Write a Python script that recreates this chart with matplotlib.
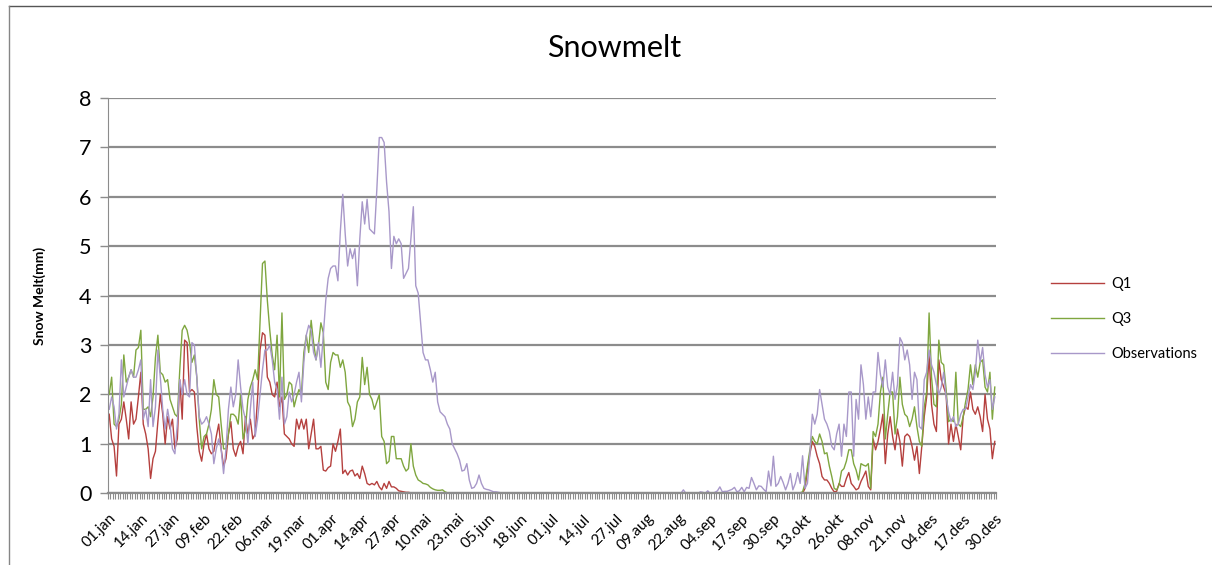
import matplotlib
matplotlib.use("Agg")
import matplotlib.pyplot as plt
from matplotlib.lines import Line2D
import numpy as np

# daily snow melt (mm), one row = 13 days
q1 = [
    1.6, 1.1, 0.95, 0.35, 1.4, 1.5, 1.85, 1.5, 1.1, 1.85, 1.4, 1.5, 1.95,
    2.45, 1.4, 1.2, 0.9, 0.3, 0.7, 0.85, 1.45, 2.0, 1.6, 1.0, 1.55, 1.3,
    1.5, 0.9, 1.1, 2.3, 1.5, 3.1, 3.05, 2.05, 2.1, 2.05, 1.35, 0.85, 0.65,
    1.0, 1.2, 0.9, 0.8, 0.85, 1.15, 1.4, 0.9, 0.55, 0.7, 1.2, 1.45, 0.9,
    0.75, 0.95, 1.05, 0.8, 1.55, 1.2, 1.5, 1.1, 1.2, 1.95, 2.9, 3.25, 3.2,
    2.35, 2.25, 2.0, 1.95, 2.25, 1.75, 1.95, 1.2, 1.15, 1.1, 1.0, 0.95, 1.5,
    1.3, 1.5, 1.3, 1.5, 0.9, 1.2, 1.5, 0.9, 0.9, 0.95, 0.47, 0.45, 0.52,
    0.55, 1.0, 0.85, 1.05, 1.3, 0.4, 0.47, 0.37, 0.45, 0.47, 0.35, 0.4, 0.3,
    0.55, 0.4, 0.2, 0.17, 0.2, 0.17, 0.24, 0.13, 0.07, 0.2, 0.1, 0.24, 0.13,
    0.13, 0.1, 0.05, 0.04, 0.03, 0.02, 0.02, 0.01, 0.01, 0.01, 0.01, 0, 0,
    0, 0, 0, 0, 0, 0, 0, 0, 0, 0, 0, 0, 0,
    0, 0, 0, 0, 0, 0, 0, 0, 0, 0, 0, 0, 0,
    0, 0, 0, 0, 0, 0, 0, 0, 0, 0, 0, 0, 0,
    0, 0, 0, 0, 0, 0, 0, 0, 0, 0, 0, 0, 0,
    0, 0, 0, 0, 0, 0, 0, 0, 0, 0, 0, 0, 0,
    0, 0, 0, 0, 0, 0, 0, 0, 0, 0, 0, 0, 0,
    0, 0, 0, 0, 0, 0, 0, 0, 0, 0, 0, 0, 0,
    0, 0, 0, 0, 0, 0, 0, 0, 0, 0, 0, 0, 0,
    0, 0, 0, 0, 0, 0, 0, 0, 0, 0, 0, 0, 0,
    0, 0, 0, 0, 0, 0, 0, 0, 0, 0, 0, 0, 0,
    0, 0, 0, 0, 0, 0, 0, 0, 0, 0, 0, 0, 0,
    0, 0, 0, 0, 0, 0, 0, 0, 0, 0, 0, 0, 0,
    0.1, 0.47, 0.8, 1.05, 0.95, 0.75, 0.6, 0.34, 0.27, 0.27, 0.2, 0.1, 0.03,
    0.04, 0.2, 0.14, 0.14, 0.3, 0.42, 0.2, 0.14, 0.07, 0.1, 0.24, 0.34, 0.45,
    0.14, 0.07, 1.1, 0.88, 1.05, 1.3, 1.6, 0.6, 1.2, 1.55, 1.15, 0.88, 1.3,
    1.05, 0.55, 1.15, 1.2, 1.15, 0.95, 0.67, 0.95, 0.4, 0.95, 1.55, 1.95, 2.8,
    1.8, 1.4, 1.25, 2.7, 2.3, 2.15, 2.0, 1.0, 1.4, 1.05, 1.4, 1.15, 0.88,
    1.55, 1.75, 1.7, 2.05, 1.7, 1.6, 1.75, 1.55, 1.25, 2.0, 1.5, 1.3, 0.7,
    1.05,
]

q3 = [
    2.0, 2.35, 1.4, 1.35, 1.5, 1.8, 2.8, 2.25, 2.35, 2.5, 2.35, 2.9, 2.95,
    3.3, 1.7, 1.7, 1.75, 1.55, 1.95, 2.75, 3.2, 2.45, 2.4, 2.25, 2.3, 1.9,
    1.75, 1.6, 1.55, 2.5, 3.3, 3.4, 3.3, 3.05, 2.65, 2.8, 2.35, 1.5, 0.9,
    1.15, 1.2, 1.4, 1.7, 2.3, 2.0, 1.95, 1.4, 0.9, 0.9, 1.2, 1.6, 1.6,
    1.55, 1.4, 2.0, 1.1, 1.3, 1.9, 2.15, 2.3, 2.5, 2.3, 3.5, 4.65, 4.7,
    3.9, 3.3, 2.8, 2.5, 3.2, 1.95, 3.65, 1.9, 2.0, 2.25, 2.2, 1.75, 1.95,
    2.1, 2.0, 2.85, 3.2, 2.85, 3.5, 3.05, 2.7, 3.0, 3.45, 3.25, 2.25, 2.1,
    2.65, 2.85, 2.8, 2.8, 2.55, 2.7, 2.45, 1.85, 1.75, 1.35, 1.5, 1.85, 1.95,
    2.75, 2.2, 2.55, 2.0, 1.9, 1.7, 1.85, 2.0, 1.15, 1.05, 0.6, 0.65, 1.15,
    1.15, 0.7, 0.7, 0.7, 0.55, 0.45, 0.5, 1.0, 0.55, 0.37, 0.27, 0.24, 0.2,
    0.19, 0.17, 0.12, 0.09, 0.07, 0.06, 0.06, 0.07, 0.03, 0.01, 0.01, 0.01, 0.01,
    0.01, 0.01, 0.01, 0, 0, 0, 0, 0, 0, 0, 0, 0, 0,
    0, 0, 0, 0, 0, 0, 0, 0, 0, 0, 0, 0, 0,
    0, 0, 0, 0, 0, 0, 0, 0, 0, 0, 0, 0, 0,
    0, 0, 0, 0, 0, 0, 0, 0, 0, 0, 0, 0, 0,
    0, 0, 0, 0, 0, 0, 0, 0, 0, 0, 0, 0, 0,
    0, 0, 0, 0, 0, 0, 0, 0, 0, 0, 0, 0, 0,
    0, 0, 0, 0, 0, 0, 0, 0, 0, 0, 0, 0, 0,
    0, 0, 0, 0, 0, 0, 0, 0, 0, 0, 0, 0, 0,
    0, 0, 0, 0, 0, 0, 0, 0, 0, 0, 0, 0, 0,
    0, 0, 0, 0, 0, 0, 0, 0, 0, 0, 0, 0, 0,
    0, 0, 0, 0, 0, 0, 0, 0, 0, 0, 0, 0.01, 0.03,
    0.2, 0.55, 0.88, 1.15, 1.05, 1.0, 1.2, 1.05, 0.8, 0.82, 0.55, 0.34, 0.1,
    0.07, 0.17, 0.45, 0.5, 0.65, 0.88, 0.88, 0.6, 0.47, 0.27, 0.6, 0.57, 0.55,
    0.6, 0.1, 1.25, 1.15, 1.4, 2.05, 2.35, 1.1, 1.6, 2.05, 2.05, 1.2, 1.55,
    2.35, 1.8, 1.6, 1.55, 1.35, 1.5, 1.75, 1.35, 1.05, 0.95, 1.75, 2.05, 3.65,
    2.35, 1.8, 1.75, 3.1, 2.65, 2.6, 2.1, 1.45, 1.5, 1.45, 2.45, 1.4, 1.35,
    1.55, 1.85, 2.1, 2.6, 2.2, 2.6, 2.35, 2.65, 2.7, 2.15, 2.05, 2.45, 1.5,
    2.15,
]

observations = [
    1.7, 1.95, 1.75, 1.3, 1.6, 2.7, 1.95, 2.15, 2.35, 2.5, 2.35, 2.35, 2.5,
    2.7, 1.5, 1.7, 1.35, 2.3, 1.35, 1.75, 2.9, 2.35, 1.7, 1.3, 1.7, 1.4,
    0.9, 0.8, 1.4, 2.3, 2.0, 2.3, 2.0, 1.95, 3.05, 3.0, 2.35, 1.55, 1.4,
    1.45, 1.55, 1.4, 1.2, 0.6, 0.9, 1.1, 0.9, 0.4, 0.9, 1.7, 2.15, 1.75,
    2.0, 2.7, 2.15, 1.7, 1.5, 1.0, 1.7, 2.25, 1.15, 1.5, 2.0, 2.5, 2.9,
    2.9, 3.0, 2.7, 2.25, 2.1, 1.5, 2.35, 1.4, 1.55, 2.05, 1.85, 2.0, 2.25,
    2.45, 1.85, 2.65, 3.2, 3.4, 3.3, 2.85, 2.7, 3.05, 2.55, 3.2, 3.9, 4.35,
    4.55, 4.6, 4.6, 4.3, 5.3, 6.05, 5.25, 4.6, 4.95, 4.75, 4.95, 4.2, 5.15,
    5.9, 5.45, 5.95, 5.35, 5.3, 5.25, 6.15, 7.2, 7.2, 7.1, 6.3, 5.7, 4.55,
    5.2, 5.05, 5.15, 5.05, 4.35, 4.45, 4.55, 5.15, 5.8, 4.2, 4.05, 3.45, 2.85,
    2.7, 2.7, 2.5, 2.25, 2.45, 1.85, 1.65, 1.6, 1.55, 1.4, 1.3, 1.0, 0.9,
    0.8, 0.67, 0.45, 0.47, 0.6, 0.27, 0.1, 0.12, 0.2, 0.37, 0.2, 0.1, 0.08,
    0.07, 0.05, 0.03, 0.03, 0.02, 0.01, 0.01, 0, 0, 0, 0, 0, 0,
    0, 0, 0, 0, 0, 0, 0, 0, 0, 0, 0, 0, 0,
    0, 0, 0, 0, 0, 0, 0, 0, 0, 0, 0, 0, 0,
    0, 0, 0, 0, 0, 0, 0, 0, 0, 0, 0, 0, 0,
    0, 0, 0, 0, 0, 0, 0, 0, 0, 0, 0, 0, 0,
    0, 0, 0, 0, 0, 0, 0, 0, 0, 0, 0, 0, 0,
    0, 0, 0.07, 0, 0, 0, 0, 0, 0, 0.03, 0.02, 0, 0.05,
    0, 0, 0.02, 0.05, 0.13, 0.03, 0.04, 0.04, 0.06, 0.08, 0.12, 0.03, 0.05,
    0.12, 0.03, 0.12, 0.1, 0.32, 0.2, 0.07, 0.15, 0.14, 0.08, 0.03, 0.45, 0.15,
    0.75, 0.14, 0.2, 0.34, 0.22, 0.07, 0.2, 0.4, 0.07, 0.2, 0.42, 0.2, 0.76,
    0.1, 0.2, 0.8, 1.6, 1.4, 1.6, 2.1, 1.8, 1.5, 1.4, 1.25, 0.95, 0.88,
    1.2, 1.4, 0.75, 1.4, 1.15, 2.05, 2.05, 0.75, 1.9, 1.5, 2.6, 2.2, 1.5,
    1.95, 1.55, 2.05, 2.05, 2.85, 2.4, 2.15, 2.7, 2.15, 2.0, 2.45, 1.9, 2.2,
    3.15, 3.05, 2.7, 2.9, 2.6, 1.9, 2.45, 2.3, 1.35, 1.3, 2.3, 2.45, 2.9,
    2.6, 2.45, 2.2, 2.0, 2.15, 2.45, 1.95, 1.65, 1.45, 1.55, 1.35, 1.4, 1.6,
    1.7, 1.7, 1.95, 2.2, 2.1, 2.45, 3.1, 2.65, 2.95, 2.4, 2.15, 2.3, 1.7,
    1.95,
]

tick_labels = ["01.jan", "14.jan", "27.jan", "09.feb", "22.feb", "06.mar",
               "19.mar", "01.apr", "14.apr", "27.apr", "10.mai", "23.mai",
               "05.jun", "18.jun", "01.jul", "14.jul", "27.jul", "09.aug",
               "22.aug", "04.sep", "17.sep", "30.sep", "13.okt", "26.okt",
               "08.nov", "21.nov", "04.des", "17.des", "30.des"]

days = np.arange(len(q1))
plt.rcParams['font.family'] = ['Lato', 'DejaVu Sans']

fig = plt.figure(figsize=(12.12, 5.65), dpi=100)
W, H = 1212.0, 565.0
ax = fig.add_axes([108 / W, 1 - 493.3 / H, (996 - 108) / W, (493.3 - 98) / H])

ax.plot(days, q1, color='#B5403E', lw=1.0, label='Q1')
ax.plot(days, q3, color='#7FA63F', lw=1.0, label='Q3')
ax.plot(days, observations, color='#A898C9', lw=1.0, label='Observations')

ax.set_xlim(-0.5, len(days) - 0.5)
ax.set_ylim(0, 8)
ax.set_yticks(range(0, 9))
ax.yaxis.grid(True, color='#8C8C8C', lw=1.6)
ax.set_axisbelow(True)
ax.tick_params(axis='y', labelsize=15.5, length=6, width=1, color='#8C8C8C', pad=6)

ax.set_xticks(days[::13])
ax.set_xticklabels(tick_labels, rotation=45, ha='right', rotation_mode='anchor', fontsize=11)
ax.set_xticks(np.arange(len(days) + 1) - 0.5, minor=True)
ax.tick_params(axis='x', which='major', length=0, pad=13)
ax.tick_params(axis='x', which='minor', length=4, width=0.8, color='#8C8C8C')

for s in ['top', 'right']:
    ax.spines[s].set_visible(False)
ax.spines['left'].set_color('#8C8C8C')
ax.spines['bottom'].set_color('#8C8C8C')
ax.spines['bottom'].set_linewidth(1.6)

ax.set_ylabel('Snow Melt(mm)', fontsize=10, fontweight='bold', labelpad=24)
fig.text(614 / W, 1 - 48 / H, 'Snowmelt', ha='center', va='center', fontsize=22)

handles = [Line2D([], [], color='#B5403E', lw=1.0),
           Line2D([], [], color='#7FA63F', lw=1.0),
           Line2D([], [], color='#A898C9', lw=1.0)]
fig.legend(handles, ['Q1', 'Q3', 'Observations'], loc='center left',
           bbox_to_anchor=(1038 / W, 1 - 319 / H), frameon=False, fontsize=10.5,
           handlelength=3.6, labelspacing=1.45, handletextpad=0.5)

# chart border (only top and left edges fall inside the picture)
fig.add_artist(Line2D([9 / W, 1], [1 - 6 / H, 1 - 6 / H], transform=fig.transFigure, color='#555555', lw=1))
fig.add_artist(Line2D([9 / W, 9 / W], [0, 1 - 6 / H], transform=fig.transFigure, color='#868686', lw=1))

plt.savefig('out.png', dpi=100)
